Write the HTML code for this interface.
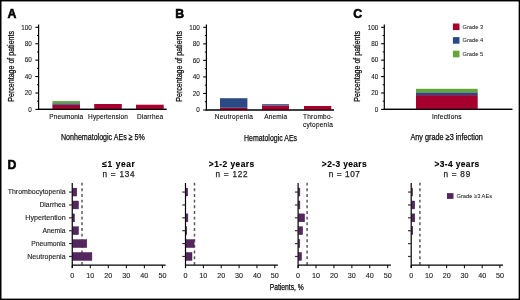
<!DOCTYPE html>
<html><head><meta charset="utf-8"><title>Figure</title>
<style>
html,body{margin:0;padding:0;background:#fff;}
body{width:520px;height:300px;overflow:hidden;}
svg{display:block;will-change:transform;font-family:"Liberation Sans", sans-serif;}
</style></head>
<body>
<svg width="520" height="300" viewBox="0 0 520 300">
<rect x="0" y="0" width="520" height="300" fill="#fff"/>
<text x="7.4" y="17.8" font-size="12.3" text-anchor="start" font-weight="bold" fill="#000" stroke="#000" stroke-width="0.55">A</text>
<line x1="38.60" y1="24.50" x2="38.60" y2="110.00" stroke="#000" stroke-width="1.2"/>
<line x1="35.40" y1="109.40" x2="38.60" y2="109.40" stroke="#000" stroke-width="1.1"/>
<text x="31.8" y="111.7" font-size="6.7" text-anchor="end" textLength="3.55" lengthAdjust="spacingAndGlyphs" fill="#1a1a1a" stroke="#1a1a1a" stroke-width="0.1">0</text>
<line x1="37.00" y1="101.19" x2="38.60" y2="101.19" stroke="#000" stroke-width="1.0"/>
<line x1="35.40" y1="92.98" x2="38.60" y2="92.98" stroke="#000" stroke-width="1.1"/>
<text x="31.8" y="95.28" font-size="6.7" text-anchor="end" textLength="7.1" lengthAdjust="spacingAndGlyphs" fill="#1a1a1a" stroke="#1a1a1a" stroke-width="0.1">20</text>
<line x1="37.00" y1="84.77" x2="38.60" y2="84.77" stroke="#000" stroke-width="1.0"/>
<line x1="35.40" y1="76.56" x2="38.60" y2="76.56" stroke="#000" stroke-width="1.1"/>
<text x="31.8" y="78.86" font-size="6.7" text-anchor="end" textLength="7.1" lengthAdjust="spacingAndGlyphs" fill="#1a1a1a" stroke="#1a1a1a" stroke-width="0.1">40</text>
<line x1="37.00" y1="68.35" x2="38.60" y2="68.35" stroke="#000" stroke-width="1.0"/>
<line x1="35.40" y1="60.14" x2="38.60" y2="60.14" stroke="#000" stroke-width="1.1"/>
<text x="31.8" y="62.44" font-size="6.7" text-anchor="end" textLength="7.1" lengthAdjust="spacingAndGlyphs" fill="#1a1a1a" stroke="#1a1a1a" stroke-width="0.1">60</text>
<line x1="37.00" y1="51.93" x2="38.60" y2="51.93" stroke="#000" stroke-width="1.0"/>
<line x1="35.40" y1="43.72" x2="38.60" y2="43.72" stroke="#000" stroke-width="1.1"/>
<text x="31.8" y="46.02" font-size="6.7" text-anchor="end" textLength="7.1" lengthAdjust="spacingAndGlyphs" fill="#1a1a1a" stroke="#1a1a1a" stroke-width="0.1">80</text>
<line x1="37.00" y1="35.51" x2="38.60" y2="35.51" stroke="#000" stroke-width="1.0"/>
<line x1="35.40" y1="27.30" x2="38.60" y2="27.30" stroke="#000" stroke-width="1.1"/>
<text x="31.8" y="29.6" font-size="6.7" text-anchor="end" textLength="10.65" lengthAdjust="spacingAndGlyphs" fill="#1a1a1a" stroke="#1a1a1a" stroke-width="0.1">100</text>
<line x1="38.00" y1="109.40" x2="166.50" y2="109.40" stroke="#000" stroke-width="1.2"/>
<text x="0" y="0" font-size="8.2" text-anchor="middle" textLength="70.7" lengthAdjust="spacingAndGlyphs" fill="#0a0a0a" stroke="#0a0a0a" stroke-width="0.25" transform="translate(14.4,66.35) rotate(-90)">Percentage of patients</text>
<text x="175.3" y="17.8" font-size="12.3" text-anchor="start" font-weight="bold" fill="#000" stroke="#000" stroke-width="0.55">B</text>
<line x1="206.40" y1="24.50" x2="206.40" y2="110.60" stroke="#000" stroke-width="1.2"/>
<line x1="203.20" y1="110.00" x2="206.40" y2="110.00" stroke="#000" stroke-width="1.1"/>
<text x="199.9" y="112.3" font-size="6.7" text-anchor="end" textLength="3.55" lengthAdjust="spacingAndGlyphs" fill="#1a1a1a" stroke="#1a1a1a" stroke-width="0.1">0</text>
<line x1="204.80" y1="101.73" x2="206.40" y2="101.73" stroke="#000" stroke-width="1.0"/>
<line x1="203.20" y1="93.46" x2="206.40" y2="93.46" stroke="#000" stroke-width="1.1"/>
<text x="199.9" y="95.76" font-size="6.7" text-anchor="end" textLength="7.1" lengthAdjust="spacingAndGlyphs" fill="#1a1a1a" stroke="#1a1a1a" stroke-width="0.1">20</text>
<line x1="204.80" y1="85.19" x2="206.40" y2="85.19" stroke="#000" stroke-width="1.0"/>
<line x1="203.20" y1="76.92" x2="206.40" y2="76.92" stroke="#000" stroke-width="1.1"/>
<text x="199.9" y="79.22" font-size="6.7" text-anchor="end" textLength="7.1" lengthAdjust="spacingAndGlyphs" fill="#1a1a1a" stroke="#1a1a1a" stroke-width="0.1">40</text>
<line x1="204.80" y1="68.65" x2="206.40" y2="68.65" stroke="#000" stroke-width="1.0"/>
<line x1="203.20" y1="60.38" x2="206.40" y2="60.38" stroke="#000" stroke-width="1.1"/>
<text x="199.9" y="62.68" font-size="6.7" text-anchor="end" textLength="7.1" lengthAdjust="spacingAndGlyphs" fill="#1a1a1a" stroke="#1a1a1a" stroke-width="0.1">60</text>
<line x1="204.80" y1="52.11" x2="206.40" y2="52.11" stroke="#000" stroke-width="1.0"/>
<line x1="203.20" y1="43.84" x2="206.40" y2="43.84" stroke="#000" stroke-width="1.1"/>
<text x="199.9" y="46.14" font-size="6.7" text-anchor="end" textLength="7.1" lengthAdjust="spacingAndGlyphs" fill="#1a1a1a" stroke="#1a1a1a" stroke-width="0.1">80</text>
<line x1="204.80" y1="35.57" x2="206.40" y2="35.57" stroke="#000" stroke-width="1.0"/>
<line x1="203.20" y1="27.30" x2="206.40" y2="27.30" stroke="#000" stroke-width="1.1"/>
<text x="199.9" y="29.6" font-size="6.7" text-anchor="end" textLength="10.65" lengthAdjust="spacingAndGlyphs" fill="#1a1a1a" stroke="#1a1a1a" stroke-width="0.1">100</text>
<line x1="205.80" y1="110.00" x2="334.00" y2="110.00" stroke="#000" stroke-width="1.2"/>
<text x="0" y="0" font-size="8.2" text-anchor="middle" textLength="70.7" lengthAdjust="spacingAndGlyphs" fill="#0a0a0a" stroke="#0a0a0a" stroke-width="0.25" transform="translate(182.4,66.35) rotate(-90)">Percentage of patients</text>
<text x="353.2" y="17.8" font-size="12.3" text-anchor="start" font-weight="bold" fill="#000" stroke="#000" stroke-width="0.55">C</text>
<line x1="384.30" y1="24.50" x2="384.30" y2="110.00" stroke="#000" stroke-width="1.2"/>
<line x1="381.10" y1="109.40" x2="384.30" y2="109.40" stroke="#000" stroke-width="1.1"/>
<text x="378.3" y="111.7" font-size="6.7" text-anchor="end" textLength="3.55" lengthAdjust="spacingAndGlyphs" fill="#1a1a1a" stroke="#1a1a1a" stroke-width="0.1">0</text>
<line x1="382.70" y1="101.19" x2="384.30" y2="101.19" stroke="#000" stroke-width="1.0"/>
<line x1="381.10" y1="92.98" x2="384.30" y2="92.98" stroke="#000" stroke-width="1.1"/>
<text x="378.3" y="95.28" font-size="6.7" text-anchor="end" textLength="7.1" lengthAdjust="spacingAndGlyphs" fill="#1a1a1a" stroke="#1a1a1a" stroke-width="0.1">20</text>
<line x1="382.70" y1="84.77" x2="384.30" y2="84.77" stroke="#000" stroke-width="1.0"/>
<line x1="381.10" y1="76.56" x2="384.30" y2="76.56" stroke="#000" stroke-width="1.1"/>
<text x="378.3" y="78.86" font-size="6.7" text-anchor="end" textLength="7.1" lengthAdjust="spacingAndGlyphs" fill="#1a1a1a" stroke="#1a1a1a" stroke-width="0.1">40</text>
<line x1="382.70" y1="68.35" x2="384.30" y2="68.35" stroke="#000" stroke-width="1.0"/>
<line x1="381.10" y1="60.14" x2="384.30" y2="60.14" stroke="#000" stroke-width="1.1"/>
<text x="378.3" y="62.44" font-size="6.7" text-anchor="end" textLength="7.1" lengthAdjust="spacingAndGlyphs" fill="#1a1a1a" stroke="#1a1a1a" stroke-width="0.1">60</text>
<line x1="382.70" y1="51.93" x2="384.30" y2="51.93" stroke="#000" stroke-width="1.0"/>
<line x1="381.10" y1="43.72" x2="384.30" y2="43.72" stroke="#000" stroke-width="1.1"/>
<text x="378.3" y="46.02" font-size="6.7" text-anchor="end" textLength="7.1" lengthAdjust="spacingAndGlyphs" fill="#1a1a1a" stroke="#1a1a1a" stroke-width="0.1">80</text>
<line x1="382.70" y1="35.51" x2="384.30" y2="35.51" stroke="#000" stroke-width="1.0"/>
<line x1="381.10" y1="27.30" x2="384.30" y2="27.30" stroke="#000" stroke-width="1.1"/>
<text x="378.3" y="29.6" font-size="6.7" text-anchor="end" textLength="10.65" lengthAdjust="spacingAndGlyphs" fill="#1a1a1a" stroke="#1a1a1a" stroke-width="0.1">100</text>
<line x1="383.70" y1="109.40" x2="512.30" y2="109.40" stroke="#000" stroke-width="1.2"/>
<text x="0" y="0" font-size="8.2" text-anchor="middle" textLength="70.7" lengthAdjust="spacingAndGlyphs" fill="#0a0a0a" stroke="#0a0a0a" stroke-width="0.25" transform="translate(360.1,66.35) rotate(-90)">Percentage of patients</text>
<rect x="52.40" y="104.80" width="27.60" height="4.60" fill="#a6002f"/>
<rect x="52.40" y="103.30" width="27.60" height="1.50" fill="#2b4a85"/>
<rect x="52.40" y="101.10" width="27.60" height="2.20" fill="#62a53b"/>
<rect x="94.20" y="104.00" width="27.60" height="5.40" fill="#a6002f"/>
<rect x="136.00" y="104.70" width="27.70" height="4.70" fill="#a6002f"/>
<rect x="220.00" y="107.80" width="27.40" height="2.20" fill="#a6002f"/>
<rect x="220.00" y="98.20" width="27.40" height="9.60" fill="#2b4a85"/>
<rect x="262.00" y="105.50" width="27.00" height="4.50" fill="#a6002f"/>
<rect x="262.00" y="104.20" width="27.00" height="1.30" fill="#2b4a85"/>
<rect x="304.00" y="106.00" width="27.30" height="4.00" fill="#a6002f"/>
<rect x="416.00" y="95.10" width="61.70" height="14.30" fill="#a6002f"/>
<rect x="416.00" y="92.30" width="61.70" height="2.80" fill="#2b4a85"/>
<rect x="416.00" y="88.80" width="61.70" height="3.50" fill="#62a53b"/>
<line x1="38.00" y1="109.40" x2="166.50" y2="109.40" stroke="#000" stroke-width="1.2"/>
<line x1="205.80" y1="110.00" x2="334.00" y2="110.00" stroke="#000" stroke-width="1.2"/>
<line x1="383.70" y1="109.40" x2="512.30" y2="109.40" stroke="#000" stroke-width="1.2"/>
<text x="66.2" y="118.7" font-size="6.5" text-anchor="middle" textLength="34" lengthAdjust="spacing" fill="#0a0a0a" stroke="#0a0a0a" stroke-width="0.1">Pneumonia</text>
<text x="108.0" y="118.9" font-size="6.5" text-anchor="middle" textLength="39.8" lengthAdjust="spacing" fill="#0a0a0a" stroke="#0a0a0a" stroke-width="0.1">Hypertension</text>
<text x="150.0" y="118.8" font-size="6.5" text-anchor="middle" textLength="26.2" lengthAdjust="spacing" fill="#0a0a0a" stroke="#0a0a0a" stroke-width="0.1">Diarrhea</text>
<text x="233.8" y="119.0" font-size="6.5" text-anchor="middle" textLength="38.3" lengthAdjust="spacing" fill="#0a0a0a" stroke="#0a0a0a" stroke-width="0.1">Neutropenia</text>
<text x="275.7" y="118.8" font-size="6.5" text-anchor="middle" textLength="22.9" lengthAdjust="spacing" fill="#0a0a0a" stroke="#0a0a0a" stroke-width="0.1">Anemia</text>
<text x="318.0" y="119.3" font-size="6.5" text-anchor="middle" textLength="30" lengthAdjust="spacing" fill="#0a0a0a" stroke="#0a0a0a" stroke-width="0.1">Thrombo-</text>
<text x="317.9" y="126.6" font-size="6.5" text-anchor="middle" textLength="29.7" lengthAdjust="spacing" fill="#0a0a0a" stroke="#0a0a0a" stroke-width="0.1">cytopenia</text>
<text x="446.8" y="118.6" font-size="6.5" text-anchor="middle" textLength="29.5" lengthAdjust="spacing" fill="#0a0a0a" stroke="#0a0a0a" stroke-width="0.1">Infections</text>
<text x="61.0" y="140.0" font-size="9" text-anchor="start" textLength="83.7" lengthAdjust="spacingAndGlyphs" fill="#0a0a0a" stroke="#0a0a0a" stroke-width="0.25">Nonhematologic AEs ≥ 5%</text>
<text x="244.0" y="140.5" font-size="9.3" text-anchor="start" textLength="53.0" lengthAdjust="spacingAndGlyphs" fill="#0a0a0a" stroke="#0a0a0a" stroke-width="0.25">Hematologic AEs</text>
<text x="410.4" y="139.7" font-size="9" text-anchor="start" textLength="72.5" lengthAdjust="spacingAndGlyphs" fill="#0a0a0a" stroke="#0a0a0a" stroke-width="0.25">Any grade ≥3 infection</text>
<rect x="452.90" y="23.50" width="6.60" height="6.60" fill="#a6002f"/>
<text x="462.5" y="28.5" font-size="5.6" text-anchor="start" textLength="20.7" lengthAdjust="spacingAndGlyphs" fill="#222" stroke="#222" stroke-width="0.05">Grade 3</text>
<rect x="452.90" y="37.10" width="6.60" height="6.60" fill="#2b4a85"/>
<text x="462.5" y="42.1" font-size="5.6" text-anchor="start" textLength="20.7" lengthAdjust="spacingAndGlyphs" fill="#222" stroke="#222" stroke-width="0.05">Grade 4</text>
<rect x="452.90" y="50.70" width="6.60" height="6.60" fill="#62a53b"/>
<text x="462.5" y="55.7" font-size="5.6" text-anchor="start" textLength="20.7" lengthAdjust="spacingAndGlyphs" fill="#222" stroke="#222" stroke-width="0.05">Grade 5</text>
<text x="7.6" y="169.0" font-size="12.3" text-anchor="start" font-weight="bold" fill="#000" stroke="#000" stroke-width="0.55">D</text>
<text x="118.55" y="167.0" font-size="8.4" text-anchor="middle" font-weight="bold" textLength="32.4" lengthAdjust="spacing" fill="#000" stroke="#000" stroke-width="0.15">≤1 year</text>
<text x="118.55" y="177.4" font-size="8.2" text-anchor="middle" textLength="32.1" lengthAdjust="spacing" fill="#222" stroke="#222" stroke-width="0.25">n = 134</text>
<line x1="82.00" y1="182.70" x2="82.00" y2="265.10" stroke="#5a5a5a" stroke-width="1.5" stroke-dasharray="2.9 2.76"/>
<rect x="72.85" y="188.12" width="3.95" height="7.9" fill="#54275f" stroke="#45164f" stroke-width="0.45"/>
<rect x="72.85" y="201.00" width="5.65" height="7.9" fill="#54275f" stroke="#45164f" stroke-width="0.45"/>
<rect x="72.85" y="213.88" width="1.65" height="7.9" fill="#54275f" stroke="#45164f" stroke-width="0.45"/>
<rect x="72.85" y="226.76" width="5.65" height="7.9" fill="#54275f" stroke="#45164f" stroke-width="0.45"/>
<rect x="72.85" y="239.64" width="13.95" height="7.9" fill="#54275f" stroke="#45164f" stroke-width="0.45"/>
<rect x="72.85" y="252.52" width="19.05" height="7.9" fill="#54275f" stroke="#45164f" stroke-width="0.45"/>
<line x1="72.25" y1="183.00" x2="72.25" y2="268.00" stroke="#000" stroke-width="1.2"/>
<line x1="69.05" y1="192.07" x2="72.25" y2="192.07" stroke="#333" stroke-width="1.2"/>
<line x1="69.05" y1="204.95" x2="72.25" y2="204.95" stroke="#333" stroke-width="1.2"/>
<line x1="69.05" y1="217.83" x2="72.25" y2="217.83" stroke="#333" stroke-width="1.2"/>
<line x1="69.05" y1="230.71" x2="72.25" y2="230.71" stroke="#333" stroke-width="1.2"/>
<line x1="69.05" y1="243.59" x2="72.25" y2="243.59" stroke="#333" stroke-width="1.2"/>
<line x1="69.05" y1="256.47" x2="72.25" y2="256.47" stroke="#333" stroke-width="1.2"/>
<line x1="72.25" y1="265.10" x2="165.60" y2="265.10" stroke="#000" stroke-width="1.2"/>
<line x1="72.25" y1="265.10" x2="72.25" y2="268.20" stroke="#000" stroke-width="1.0"/>
<text x="72.25" y="278.1" font-size="7.2" text-anchor="middle" fill="#222" stroke="#222" stroke-width="0.12">0</text>
<line x1="90.28" y1="265.10" x2="90.28" y2="268.20" stroke="#000" stroke-width="1.0"/>
<text x="90.28" y="278.1" font-size="7.2" text-anchor="middle" fill="#222" stroke="#222" stroke-width="0.12">10</text>
<line x1="108.31" y1="265.10" x2="108.31" y2="268.20" stroke="#000" stroke-width="1.0"/>
<text x="108.31" y="278.1" font-size="7.2" text-anchor="middle" fill="#222" stroke="#222" stroke-width="0.12">20</text>
<line x1="126.34" y1="265.10" x2="126.34" y2="268.20" stroke="#000" stroke-width="1.0"/>
<text x="126.34" y="278.1" font-size="7.2" text-anchor="middle" fill="#222" stroke="#222" stroke-width="0.12">30</text>
<line x1="144.37" y1="265.10" x2="144.37" y2="268.20" stroke="#000" stroke-width="1.0"/>
<text x="144.37" y="278.1" font-size="7.2" text-anchor="middle" fill="#222" stroke="#222" stroke-width="0.12">40</text>
<line x1="162.40" y1="265.10" x2="162.40" y2="268.20" stroke="#000" stroke-width="1.0"/>
<text x="162.4" y="278.1" font-size="7.2" text-anchor="middle" fill="#222" stroke="#222" stroke-width="0.12">50</text>
<text x="231.55" y="167.0" font-size="8.4" text-anchor="middle" font-weight="bold" textLength="45.4" lengthAdjust="spacing" fill="#000" stroke="#000" stroke-width="0.15">>1-2 years</text>
<text x="231.55" y="177.4" font-size="8.2" text-anchor="middle" textLength="32.0" lengthAdjust="spacing" fill="#222" stroke="#222" stroke-width="0.25">n = 122</text>
<line x1="194.50" y1="182.70" x2="194.50" y2="265.10" stroke="#5a5a5a" stroke-width="1.5" stroke-dasharray="2.9 2.76"/>
<rect x="186.10" y="188.12" width="1.60" height="7.9" fill="#54275f" stroke="#45164f" stroke-width="0.45"/>
<rect x="186.10" y="213.88" width="1.80" height="7.9" fill="#54275f" stroke="#45164f" stroke-width="0.45"/>
<rect x="186.10" y="226.76" width="0.70" height="7.9" fill="#54275f" stroke="#45164f" stroke-width="0.45"/>
<rect x="186.10" y="239.64" width="8.00" height="7.9" fill="#54275f" stroke="#45164f" stroke-width="0.45"/>
<rect x="186.10" y="252.52" width="5.90" height="7.9" fill="#54275f" stroke="#45164f" stroke-width="0.45"/>
<line x1="185.50" y1="183.00" x2="185.50" y2="268.00" stroke="#000" stroke-width="1.2"/>
<line x1="182.30" y1="192.07" x2="185.50" y2="192.07" stroke="#333" stroke-width="1.2"/>
<line x1="182.30" y1="204.95" x2="185.50" y2="204.95" stroke="#333" stroke-width="1.2"/>
<line x1="182.30" y1="217.83" x2="185.50" y2="217.83" stroke="#333" stroke-width="1.2"/>
<line x1="182.30" y1="230.71" x2="185.50" y2="230.71" stroke="#333" stroke-width="1.2"/>
<line x1="182.30" y1="243.59" x2="185.50" y2="243.59" stroke="#333" stroke-width="1.2"/>
<line x1="182.30" y1="256.47" x2="185.50" y2="256.47" stroke="#333" stroke-width="1.2"/>
<line x1="185.50" y1="265.10" x2="277.90" y2="265.10" stroke="#000" stroke-width="1.2"/>
<line x1="185.50" y1="265.10" x2="185.50" y2="268.20" stroke="#000" stroke-width="1.0"/>
<text x="185.5" y="278.1" font-size="7.2" text-anchor="middle" fill="#222" stroke="#222" stroke-width="0.12">0</text>
<line x1="203.36" y1="265.10" x2="203.36" y2="268.20" stroke="#000" stroke-width="1.0"/>
<text x="203.36" y="278.1" font-size="7.2" text-anchor="middle" fill="#222" stroke="#222" stroke-width="0.12">10</text>
<line x1="221.22" y1="265.10" x2="221.22" y2="268.20" stroke="#000" stroke-width="1.0"/>
<text x="221.22" y="278.1" font-size="7.2" text-anchor="middle" fill="#222" stroke="#222" stroke-width="0.12">20</text>
<line x1="239.08" y1="265.10" x2="239.08" y2="268.20" stroke="#000" stroke-width="1.0"/>
<text x="239.08" y="278.1" font-size="7.2" text-anchor="middle" fill="#222" stroke="#222" stroke-width="0.12">30</text>
<line x1="256.94" y1="265.10" x2="256.94" y2="268.20" stroke="#000" stroke-width="1.0"/>
<text x="256.94" y="278.1" font-size="7.2" text-anchor="middle" fill="#222" stroke="#222" stroke-width="0.12">40</text>
<line x1="274.80" y1="265.10" x2="274.80" y2="268.20" stroke="#000" stroke-width="1.0"/>
<text x="274.8" y="278.1" font-size="7.2" text-anchor="middle" fill="#222" stroke="#222" stroke-width="0.12">50</text>
<text x="344.25" y="167.0" font-size="8.4" text-anchor="middle" font-weight="bold" textLength="44.8" lengthAdjust="spacing" fill="#000" stroke="#000" stroke-width="0.15">>2-3 years</text>
<text x="344.25" y="177.4" font-size="8.2" text-anchor="middle" textLength="31.2" lengthAdjust="spacing" fill="#222" stroke="#222" stroke-width="0.25">n = 107</text>
<line x1="307.10" y1="182.70" x2="307.10" y2="265.10" stroke="#5a5a5a" stroke-width="1.5" stroke-dasharray="2.9 2.76"/>
<rect x="298.70" y="188.12" width="1.20" height="7.9" fill="#54275f" stroke="#45164f" stroke-width="0.45"/>
<rect x="298.70" y="201.00" width="1.20" height="7.9" fill="#54275f" stroke="#45164f" stroke-width="0.45"/>
<rect x="298.70" y="213.88" width="5.90" height="7.9" fill="#54275f" stroke="#45164f" stroke-width="0.45"/>
<rect x="298.70" y="226.76" width="3.90" height="7.9" fill="#54275f" stroke="#45164f" stroke-width="0.45"/>
<rect x="298.70" y="239.64" width="1.10" height="7.9" fill="#54275f" stroke="#45164f" stroke-width="0.45"/>
<rect x="298.70" y="252.52" width="2.90" height="7.9" fill="#54275f" stroke="#45164f" stroke-width="0.45"/>
<line x1="298.10" y1="183.00" x2="298.10" y2="268.00" stroke="#000" stroke-width="1.2"/>
<line x1="294.90" y1="192.07" x2="298.10" y2="192.07" stroke="#333" stroke-width="1.2"/>
<line x1="294.90" y1="204.95" x2="298.10" y2="204.95" stroke="#333" stroke-width="1.2"/>
<line x1="294.90" y1="217.83" x2="298.10" y2="217.83" stroke="#333" stroke-width="1.2"/>
<line x1="294.90" y1="230.71" x2="298.10" y2="230.71" stroke="#333" stroke-width="1.2"/>
<line x1="294.90" y1="243.59" x2="298.10" y2="243.59" stroke="#333" stroke-width="1.2"/>
<line x1="294.90" y1="256.47" x2="298.10" y2="256.47" stroke="#333" stroke-width="1.2"/>
<line x1="298.10" y1="265.10" x2="390.90" y2="265.10" stroke="#000" stroke-width="1.2"/>
<line x1="298.10" y1="265.10" x2="298.10" y2="268.20" stroke="#000" stroke-width="1.0"/>
<text x="298.1" y="278.1" font-size="7.2" text-anchor="middle" fill="#222" stroke="#222" stroke-width="0.12">0</text>
<line x1="316.02" y1="265.10" x2="316.02" y2="268.20" stroke="#000" stroke-width="1.0"/>
<text x="316.02" y="278.1" font-size="7.2" text-anchor="middle" fill="#222" stroke="#222" stroke-width="0.12">10</text>
<line x1="333.94" y1="265.10" x2="333.94" y2="268.20" stroke="#000" stroke-width="1.0"/>
<text x="333.94" y="278.1" font-size="7.2" text-anchor="middle" fill="#222" stroke="#222" stroke-width="0.12">20</text>
<line x1="351.86" y1="265.10" x2="351.86" y2="268.20" stroke="#000" stroke-width="1.0"/>
<text x="351.86" y="278.1" font-size="7.2" text-anchor="middle" fill="#222" stroke="#222" stroke-width="0.12">30</text>
<line x1="369.78" y1="265.10" x2="369.78" y2="268.20" stroke="#000" stroke-width="1.0"/>
<text x="369.78" y="278.1" font-size="7.2" text-anchor="middle" fill="#222" stroke="#222" stroke-width="0.12">40</text>
<line x1="387.70" y1="265.10" x2="387.70" y2="268.20" stroke="#000" stroke-width="1.0"/>
<text x="387.7" y="278.1" font-size="7.2" text-anchor="middle" fill="#222" stroke="#222" stroke-width="0.12">50</text>
<text x="456.85" y="167.0" font-size="8.4" text-anchor="middle" font-weight="bold" textLength="44.8" lengthAdjust="spacing" fill="#000" stroke="#000" stroke-width="0.15">>3-4 years</text>
<text x="456.85" y="177.4" font-size="8.2" text-anchor="middle" textLength="26.8" lengthAdjust="spacing" fill="#222" stroke="#222" stroke-width="0.25">n = 89</text>
<line x1="419.90" y1="182.70" x2="419.90" y2="265.10" stroke="#5a5a5a" stroke-width="1.5" stroke-dasharray="2.9 2.76"/>
<rect x="411.80" y="188.12" width="0.80" height="7.9" fill="#54275f" stroke="#45164f" stroke-width="0.45"/>
<rect x="411.80" y="201.00" width="2.90" height="7.9" fill="#54275f" stroke="#45164f" stroke-width="0.45"/>
<rect x="411.80" y="213.88" width="3.00" height="7.9" fill="#54275f" stroke="#45164f" stroke-width="0.45"/>
<rect x="411.80" y="226.76" width="1.00" height="7.9" fill="#54275f" stroke="#45164f" stroke-width="0.45"/>
<line x1="411.20" y1="183.00" x2="411.20" y2="268.00" stroke="#000" stroke-width="1.2"/>
<line x1="408.00" y1="192.07" x2="411.20" y2="192.07" stroke="#333" stroke-width="1.2"/>
<line x1="408.00" y1="204.95" x2="411.20" y2="204.95" stroke="#333" stroke-width="1.2"/>
<line x1="408.00" y1="217.83" x2="411.20" y2="217.83" stroke="#333" stroke-width="1.2"/>
<line x1="408.00" y1="230.71" x2="411.20" y2="230.71" stroke="#333" stroke-width="1.2"/>
<line x1="408.00" y1="243.59" x2="411.20" y2="243.59" stroke="#333" stroke-width="1.2"/>
<line x1="408.00" y1="256.47" x2="411.20" y2="256.47" stroke="#333" stroke-width="1.2"/>
<line x1="411.20" y1="265.10" x2="503.00" y2="265.10" stroke="#000" stroke-width="1.2"/>
<line x1="411.20" y1="265.10" x2="411.20" y2="268.20" stroke="#000" stroke-width="1.0"/>
<text x="411.2" y="278.1" font-size="7.2" text-anchor="middle" fill="#222" stroke="#222" stroke-width="0.12">0</text>
<line x1="428.94" y1="265.10" x2="428.94" y2="268.20" stroke="#000" stroke-width="1.0"/>
<text x="428.94" y="278.1" font-size="7.2" text-anchor="middle" fill="#222" stroke="#222" stroke-width="0.12">10</text>
<line x1="446.68" y1="265.10" x2="446.68" y2="268.20" stroke="#000" stroke-width="1.0"/>
<text x="446.68" y="278.1" font-size="7.2" text-anchor="middle" fill="#222" stroke="#222" stroke-width="0.12">20</text>
<line x1="464.42" y1="265.10" x2="464.42" y2="268.20" stroke="#000" stroke-width="1.0"/>
<text x="464.42" y="278.1" font-size="7.2" text-anchor="middle" fill="#222" stroke="#222" stroke-width="0.12">30</text>
<line x1="482.16" y1="265.10" x2="482.16" y2="268.20" stroke="#000" stroke-width="1.0"/>
<text x="482.16" y="278.1" font-size="7.2" text-anchor="middle" fill="#222" stroke="#222" stroke-width="0.12">40</text>
<line x1="499.90" y1="265.10" x2="499.90" y2="268.20" stroke="#000" stroke-width="1.0"/>
<text x="499.9" y="278.1" font-size="7.2" text-anchor="middle" fill="#222" stroke="#222" stroke-width="0.12">50</text>
<text x="65.6" y="194.27" font-size="7.0" text-anchor="end" textLength="57.9" lengthAdjust="spacingAndGlyphs" fill="#222" stroke="#222" stroke-width="0.12">Thrombocytopenia</text>
<text x="65.6" y="207.15" font-size="7.0" text-anchor="end" textLength="26.2" lengthAdjust="spacingAndGlyphs" fill="#222" stroke="#222" stroke-width="0.12">Diarrhea</text>
<text x="65.6" y="220.03" font-size="7.0" text-anchor="end" textLength="40.3" lengthAdjust="spacingAndGlyphs" fill="#222" stroke="#222" stroke-width="0.12">Hypertention</text>
<text x="65.6" y="232.91" font-size="7.0" text-anchor="end" textLength="23.1" lengthAdjust="spacingAndGlyphs" fill="#222" stroke="#222" stroke-width="0.12">Anemia</text>
<text x="65.6" y="245.79" font-size="7.0" text-anchor="end" textLength="34.3" lengthAdjust="spacingAndGlyphs" fill="#222" stroke="#222" stroke-width="0.12">Pneumonia</text>
<text x="65.6" y="258.67" font-size="7.0" text-anchor="end" textLength="38.3" lengthAdjust="spacingAndGlyphs" fill="#222" stroke="#222" stroke-width="0.12">Neutropenia</text>
<rect x="447.00" y="193.10" width="6.50" height="5.80" fill="#54275f"/>
<text x="456.5" y="197.9" font-size="5.7" text-anchor="start" textLength="35.6" lengthAdjust="spacingAndGlyphs" fill="#222" stroke="#222" stroke-width="0.05">Grade ≥3 AEs</text>
<text x="269.7" y="290.0" font-size="8.3" text-anchor="start" textLength="34.1" lengthAdjust="spacingAndGlyphs" fill="#0a0a0a" stroke="#0a0a0a" stroke-width="0.25">Patients, %</text>
<rect x="0" y="0" width="1.5" height="300" fill="#000"/>
<rect x="0" y="0" width="520" height="1.45" fill="#000"/>
<rect x="518.65" y="0" width="1.35" height="300" fill="#000"/>
<rect x="0" y="298.6" width="520" height="1.4" fill="#000"/>
</svg>
</body></html>
